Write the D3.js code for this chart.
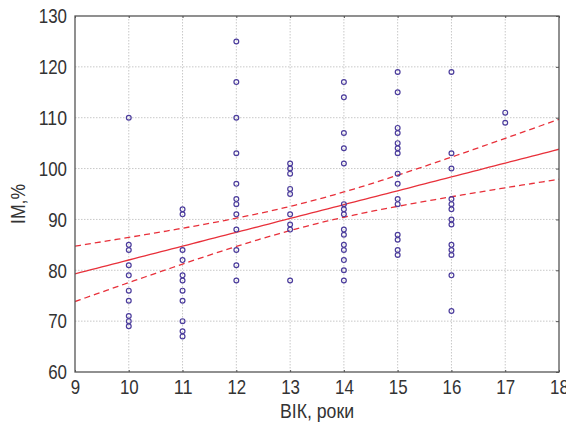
<!DOCTYPE html>
<html><head><meta charset="utf-8">
<script src="https://cdn.jsdelivr.net/npm/d3@7"></script>
<style>body{margin:0;background:#fff}svg{display:block}</style>
</head><body>
<svg id="c" width="566" height="424"></svg>
<script>
const ages = [10, 11, 12, 13, 14, 15, 16, 17];
const im10 = [110, 85, 84, 81, 79, 76, 74, 71, 70, 69];
const im11 = [92, 91, 84, 82, 79, 78, 76, 74, 70, 68, 67];
const im12 = [125, 117, 110, 103, 97, 94, 93, 91, 88, 84, 81, 78];
const im13 = [101, 100, 99, 96, 95, 91, 89, 88, 78];
const im14 = [117, 114, 107, 104, 101, 93, 92, 91, 88, 87, 85, 84, 82, 80, 78];
const im15 = [119, 115, 108, 107, 105, 104, 103, 99, 97, 94, 93, 87, 86, 84, 83];
const im16 = [119, 103, 100, 94, 93, 92, 90, 89, 85, 84, 83, 79, 72];
const im17 = [111, 109];
const xTicks = [9, 10, 11, 12, 13, 14, 15, 16, 17, 18];
const yTicks = [60, 70, 80, 90, 100, 110, 120, 130];
// regression line (value at age 9 and at age 18)
const fitEnds = [79.3, 103.8];
// 95% confidence band half-width read at ages 9, 13.3 (narrowest) and 18
const bandAges = [9, 13.3, 18];
const bandHalf = [5.45, 2.35, 5.9];

const cols = [im10, im11, im12, im13, im14, im15, im16, im17];
const pts = [];
cols.forEach((arr, i) => arr.forEach(v => pts.push({x: ages[i], y: v})));

// fitted line and hyperbolic confidence band: h(x)^2 = h0^2 + k (x - m)^2
const b1 = (fitEnds[1] - fitEnds[0]) / 9, b0 = fitEnds[0] - b1 * 9;
const m = bandAges[1], h0 = bandHalf[1];
const kL = (bandHalf[0] ** 2 - h0 ** 2) / (bandAges[0] - m) ** 2;
const kR = (bandHalf[2] ** 2 - h0 ** 2) / (bandAges[2] - m) ** 2;
const half = v => Math.sqrt(h0 ** 2 + (v < m ? kL : kR) * (v - m) ** 2);
const grid = d3.range(9, 18.001, 0.1);
const fit = grid.map(v => [v, b0 + b1 * v]);
const upper = grid.map(v => [v, b0 + b1 * v + half(v)]);
const lower = grid.map(v => [v, b0 + b1 * v - half(v)]);

const svg = d3.select('#c');
const L = 75, R = 559, T = 16, B = 372;
const x = d3.scaleLinear().domain([9, 18]).range([L, R]);
const y = d3.scaleLinear().domain([60, 130]).range([B, T]);
const font = "'Liberation Sans Narrow','Arial Narrow','Liberation Sans',Arial,sans-serif";

svg.append('g').selectAll('line').data(xTicks.slice(1, -1)).join('line')
  .attr('x1', d => x(d)).attr('x2', d => x(d)).attr('y1', T).attr('y2', B)
  .attr('stroke', '#c8c8c8').attr('stroke-width', 1).attr('stroke-dasharray', '1.5,1.5');
svg.append('g').selectAll('line').data(yTicks.slice(1, -1)).join('line')
  .attr('y1', d => y(d)).attr('y2', d => y(d)).attr('x1', L).attr('x2', R)
  .attr('stroke', '#c8c8c8').attr('stroke-width', 1).attr('stroke-dasharray', '1.5,1.5');

const line = d3.line().x(d => x(d[0])).y(d => y(d[1]));
svg.append('clipPath').attr('id', 'pc').append('rect')
  .attr('x', L).attr('y', T).attr('width', R - L).attr('height', B - T);
const g = svg.append('g').attr('clip-path', 'url(#pc)');
[upper, lower].forEach(dat => g.append('path').attr('d', line(dat)).attr('fill', 'none')
  .attr('stroke', '#e8303a').attr('stroke-width', 1.3).attr('stroke-dasharray', '6,4'));
g.append('path').attr('d', line(fit)).attr('fill', 'none').attr('stroke', '#e8303a')
  .attr('stroke-width', 1.3);

g.append('g').selectAll('circle').data(pts).join('circle')
  .attr('cx', d => x(d.x)).attr('cy', d => y(d.y)).attr('r', 2.4)
  .attr('fill', 'none').attr('stroke', '#4b3c9c').attr('stroke-width', 1.2);

svg.append('rect').attr('x', L).attr('y', T).attr('width', R - L).attr('height', B - T)
  .attr('fill', 'none').attr('stroke', '#555').attr('stroke-width', 1.3);

const narrow = sel => sel.each(function () {
  const t = d3.select(this), str = t.text();
  if (str) t.attr('textLength', str.length * 9.4).attr('lengthAdjust', 'spacingAndGlyphs');
});

const ax = svg.append('g').attr('transform', `translate(0,${B})`)
  .call(d3.axisBottom(x).tickValues(xTicks).tickSize(-2).tickPadding(7));
const ay = svg.append('g').attr('transform', `translate(${L},0)`)
  .call(d3.axisLeft(y).tickValues(yTicks).tickSize(0).tickPadding(8));
const axR = svg.append('g').attr('transform', `translate(${R},0)`)
  .call(d3.axisRight(y).tickValues(yTicks).tickSize(-3).tickFormat(''));
const axT = svg.append('g').attr('transform', `translate(0,${T})`)
  .call(d3.axisTop(x).tickValues(xTicks).tickSize(-2).tickFormat(''));
[ax, ay, axR, axT].forEach(a => {
  a.select('.domain').remove();
  a.selectAll('line').attr('stroke', '#555');
  a.selectAll('text').attr('font-family', font).attr('font-size', 21).attr('fill', '#333').call(narrow);
});

svg.append('text').attr('x', (L + R) / 2).attr('y', 418).attr('text-anchor', 'middle')
  .attr('font-family', font).attr('font-size', 21).attr('fill', '#333')
  .attr('textLength', 74).attr('lengthAdjust', 'spacingAndGlyphs').text('ВІК, роки');
svg.append('text').attr('transform', `translate(25,${(T + B) / 2 + 10}) rotate(-90)`)
  .attr('text-anchor', 'middle').attr('font-family', font).attr('font-size', 21)
  .attr('fill', '#333').attr('textLength', 40).attr('lengthAdjust', 'spacingAndGlyphs').text('IM,%');
</script>
</body></html>
